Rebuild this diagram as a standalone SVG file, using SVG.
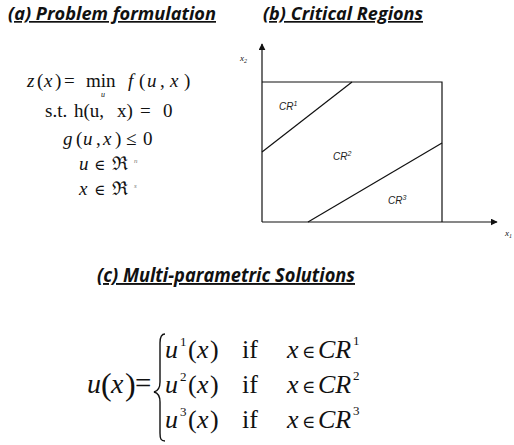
<svg xmlns="http://www.w3.org/2000/svg" width="514" height="445" viewBox="0 0 514 445" xml:space="preserve">
<defs>
<style>
.title{font-family:"Open Sans","Liberation Sans",sans-serif;font-weight:bold;font-style:italic;fill:#111;text-decoration:underline}
.m{font-family:"Liberation Serif","Times New Roman",serif;fill:#111}
.i{font-style:italic}
.el{font-family:"DejaVu Serif",serif}
.cr{font-family:"Liberation Sans",sans-serif;font-style:italic;font-size:10px;fill:#222}
.ln{stroke:#111;stroke-width:1.2;fill:none}
</style>
<marker id="ah" viewBox="0 0 10 10" refX="9" refY="5" markerWidth="7" markerHeight="7" orient="auto" markerUnits="userSpaceOnUse">
<path d="M0,0 L10,5 L0,10 z" fill="#111"/>
</marker>
</defs>
<rect width="514" height="445" fill="#fff"/>

<g id="panel-a">
<text class="title" x="8" y="20" font-size="17" textLength="208" lengthAdjust="spacingAndGlyphs">(a) Problem formulation</text>
<text class="m" y="87" font-size="19"><tspan class="i" x="27">z</tspan><tspan x="37">(</tspan><tspan class="i" x="44">x</tspan><tspan x="55">)</tspan><tspan x="64">=</tspan><tspan x="86">min</tspan><tspan class="i" x="128">f</tspan><tspan x="139">(</tspan><tspan class="i" x="147">u</tspan><tspan x="160">,</tspan><tspan class="i" x="170">x</tspan><tspan x="184">)</tspan></text>
<text class="m i" x="101" y="97" font-size="8" fill="#666">u</text>
<text class="m" y="117" font-size="19"><tspan x="45">s.t.</tspan><tspan x="74">h(u,</tspan><tspan x="117">x)</tspan><tspan x="140">=</tspan><tspan x="163">0</tspan></text>
<text class="m" y="145" font-size="19"><tspan class="i" x="63">g</tspan><tspan x="76">(</tspan><tspan class="i" x="83">u</tspan><tspan x="96">,</tspan><tspan class="i" x="103">x</tspan><tspan x="115">)</tspan><tspan x="126">≤</tspan><tspan x="143">0</tspan></text>
<text class="m" y="170" font-size="19"><tspan class="i" x="79">u</tspan><tspan class="el" x="94" font-size="15">∈</tspan><tspan x="112">ℜ</tspan><tspan class="i" x="134" y="163" font-size="7" fill="#777">n</tspan></text>
<text class="m" y="195" font-size="19"><tspan class="i" x="79">x</tspan><tspan class="el" x="94" font-size="15">∈</tspan><tspan x="112">ℜ</tspan><tspan class="i" x="134" y="188" font-size="7" fill="#777">s</tspan></text>
</g>

<g id="panel-b">
<text class="title" x="263" y="20" font-size="17" textLength="160" lengthAdjust="spacingAndGlyphs">(b) Critical Regions</text>
<text class="m i" x="240" y="61" font-size="9" fill="#666">x<tspan font-size="6" dy="2">2</tspan></text>
<text class="m i" x="505" y="236" font-size="9" fill="#666">x<tspan font-size="6" dy="2">1</tspan></text>
<g id="connectors">
<line class="ln" x1="262" y1="222" x2="262" y2="44" marker-end="url(#ah)"/>
<line class="ln" x1="262" y1="222" x2="497" y2="222" marker-end="url(#ah)"/>
<polyline class="ln" points="262,82 442,82 442,222"/>
<line class="ln" x1="262" y1="152" x2="352" y2="82"/>
<line class="ln" x1="308" y1="222" x2="442" y2="143"/>
</g>
<text class="cr" x="279" y="110">CR<tspan font-size="7" dy="-4">1</tspan></text>
<text class="cr" x="333" y="160">CR<tspan font-size="7" dy="-4">2</tspan></text>
<text class="cr" x="388" y="204">CR<tspan font-size="7" dy="-4">3</tspan></text>
</g>

<g id="panel-c">
<text class="title" x="97" y="282" font-size="19" textLength="258" lengthAdjust="spacingAndGlyphs">(c) Multi-parametric Solutions</text>
<text class="m" y="393" font-size="28"><tspan class="i" x="87">u</tspan><tspan x="101" font-size="32" y="395">(</tspan><tspan class="i" x="111" y="393">x</tspan><tspan x="125" font-size="32" y="395">)</tspan><tspan x="135" y="393" font-size="29">=</tspan></text>
<path d="M165,334 C161,334 160,337 160,343 L160,382 C160,388 158,391 154,392 C158,393 160,396 160,402 L160,433 C160,439 161,441 165,441" fill="none" stroke="#111" stroke-width="1.4"/>
<text class="m" y="358" font-size="26"><tspan class="i" x="165">u</tspan><tspan x="180" y="346" font-size="13">1</tspan><tspan x="188" y="358">(</tspan><tspan class="i" x="197">x</tspan><tspan x="210">)</tspan><tspan x="242">if</tspan><tspan class="i" x="287">x</tspan><tspan class="el" x="302" font-size="18">∈</tspan><tspan class="i" x="318">CR</tspan><tspan x="353" y="345" font-size="13">1</tspan></text>
<text class="m" y="393" font-size="26"><tspan class="i" x="165">u</tspan><tspan x="180" y="381" font-size="13">2</tspan><tspan x="188" y="393">(</tspan><tspan class="i" x="197">x</tspan><tspan x="210">)</tspan><tspan x="242">if</tspan><tspan class="i" x="287">x</tspan><tspan class="el" x="302" font-size="18">∈</tspan><tspan class="i" x="318">CR</tspan><tspan x="353" y="380" font-size="13">2</tspan></text>
<text class="m" y="428" font-size="26"><tspan class="i" x="165">u</tspan><tspan x="180" y="416" font-size="13">3</tspan><tspan x="188" y="428">(</tspan><tspan class="i" x="197">x</tspan><tspan x="210">)</tspan><tspan x="242">if</tspan><tspan class="i" x="287">x</tspan><tspan class="el" x="302" font-size="18">∈</tspan><tspan class="i" x="318">CR</tspan><tspan x="353" y="415" font-size="13">3</tspan></text>
</g>
</svg>
